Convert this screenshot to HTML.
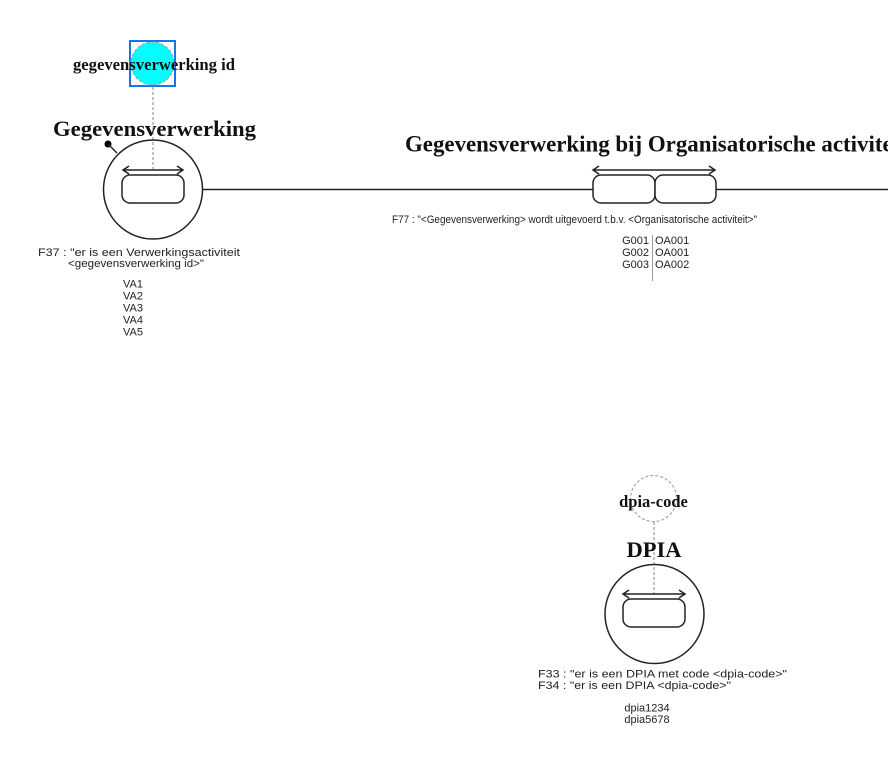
<!DOCTYPE html>
<html>
<head>
<meta charset="utf-8">
<style>
  html, body { margin:0; padding:0; background:#fff; }
  svg { display:block; }
  .serif { font-family: "Liberation Serif", serif; font-weight: bold; fill:#111; }
  .sans { font-family: "Liberation Sans", sans-serif; font-size: 11px; fill:#222; }
</style>
</head>
<body>
<svg width="888" height="781" viewBox="0 0 888 781" xmlns="http://www.w3.org/2000/svg">
  <rect x="0" y="0" width="888" height="781" fill="#fff"/>

  <!-- ===== Gegevensverwerking ===== -->
  <rect x="130" y="41" width="45" height="45" fill="#fff" stroke="#1a73e8" stroke-width="2"/>
  <circle cx="152.5" cy="63.5" r="21.5" fill="#00ffff" stroke="#999" stroke-width="1" stroke-dasharray="3,2"/>
  <text class="serif" x="154" y="70" font-size="16.5" text-anchor="middle" textLength="162" lengthAdjust="spacingAndGlyphs">gegevensverwerking id</text>
  <line x1="153" y1="87" x2="153" y2="170" stroke="#888" stroke-width="1" stroke-dasharray="3,2"/>

  <text class="serif" x="53" y="136" font-size="22.5" textLength="203" lengthAdjust="spacingAndGlyphs">Gegevensverwerking</text>

  <circle cx="108" cy="144" r="3.5" fill="#000"/>
  <line x1="108" y1="144" x2="117" y2="153" stroke="#222" stroke-width="1.5"/>

  <circle cx="153" cy="189.5" r="49.5" fill="none" stroke="#222" stroke-width="1.5"/>
  <line x1="123" y1="170" x2="183" y2="170" stroke="#222" stroke-width="1.5"/>
  <path d="M129,166 L123,170 L129,174" fill="none" stroke="#222" stroke-width="1.5"/>
  <path d="M177,166 L183,170 L177,174" fill="none" stroke="#222" stroke-width="1.5"/>
  <rect x="122" y="175" width="62" height="28" rx="8" ry="8" fill="#fff" stroke="#222" stroke-width="1.5"/>

  <text class="sans" x="38" y="256" textLength="202" lengthAdjust="spacingAndGlyphs">F37 : "er is een Verwerkingsactiviteit</text>
  <text class="sans" x="68" y="267" textLength="136" lengthAdjust="spacingAndGlyphs">&lt;gegevensverwerking id&gt;"</text>
  <text class="sans" x="133" y="287.5" text-anchor="middle">VA1</text>
  <text class="sans" x="133" y="299.5" text-anchor="middle">VA2</text>
  <text class="sans" x="133" y="311.5" text-anchor="middle">VA3</text>
  <text class="sans" x="133" y="323.5" text-anchor="middle">VA4</text>
  <text class="sans" x="133" y="335.5" text-anchor="middle">VA5</text>

  <line x1="203" y1="189.5" x2="593" y2="189.5" stroke="#222" stroke-width="1.5"/>
  <line x1="716" y1="189.5" x2="888" y2="189.5" stroke="#222" stroke-width="1.5"/>

  <!-- ===== Gegevensverwerking bij Organisatorische activiteit ===== -->
  <text class="serif" x="405" y="151.5" font-size="22.9">Gegevensverwerking bij Organisatorische activiteit</text>

  <line x1="593" y1="170" x2="715" y2="170" stroke="#222" stroke-width="1.5"/>
  <path d="M599,166 L593,170 L599,174" fill="none" stroke="#222" stroke-width="1.5"/>
  <path d="M709,166 L715,170 L709,174" fill="none" stroke="#222" stroke-width="1.5"/>
  <rect x="593" y="175" width="62" height="28" rx="8" ry="8" fill="#fff" stroke="#222" stroke-width="1.5"/>
  <rect x="655" y="175" width="61" height="28" rx="8" ry="8" fill="#fff" stroke="#222" stroke-width="1.5"/>

  <text class="sans" x="392" y="223" textLength="365" lengthAdjust="spacingAndGlyphs">F77 : "&lt;Gegevensverwerking&gt; wordt uitgevoerd t.b.v. &lt;Organisatorische activiteit&gt;"</text>

  <line x1="652.5" y1="235" x2="652.5" y2="281" stroke="#999" stroke-width="1"/>
  <text class="sans" x="649" y="244" text-anchor="end">G001</text>
  <text class="sans" x="649" y="256" text-anchor="end">G002</text>
  <text class="sans" x="649" y="268" text-anchor="end">G003</text>
  <text class="sans" x="655" y="244">OA001</text>
  <text class="sans" x="655" y="256">OA001</text>
  <text class="sans" x="655" y="268">OA002</text>

  <!-- ===== DPIA ===== -->
  <circle cx="653.5" cy="498.5" r="23" fill="#fff" stroke="#999" stroke-width="1" stroke-dasharray="3,2"/>
  <text class="serif" x="653.5" y="507" font-size="16.5" text-anchor="middle">dpia-code</text>
  <line x1="654" y1="522" x2="654" y2="594" stroke="#888" stroke-width="1" stroke-dasharray="3,2"/>

  <text class="serif" x="654" y="557" font-size="22.5" text-anchor="middle">DPIA</text>

  <circle cx="654.5" cy="614" r="49.5" fill="none" stroke="#222" stroke-width="1.5"/>
  <line x1="623" y1="594" x2="685" y2="594" stroke="#222" stroke-width="1.5"/>
  <path d="M629,590 L623,594 L629,598" fill="none" stroke="#222" stroke-width="1.5"/>
  <path d="M679,590 L685,594 L679,598" fill="none" stroke="#222" stroke-width="1.5"/>
  <rect x="623" y="599" width="62" height="28" rx="8" ry="8" fill="#fff" stroke="#222" stroke-width="1.5"/>

  <text class="sans" x="538" y="677.5" textLength="249" lengthAdjust="spacingAndGlyphs">F33 : "er is een DPIA met code &lt;dpia-code&gt;"</text>
  <text class="sans" x="538" y="689" textLength="193" lengthAdjust="spacingAndGlyphs">F34 : "er is een DPIA &lt;dpia-code&gt;"</text>
  <text class="sans" x="647" y="711.5" text-anchor="middle">dpia1234</text>
  <text class="sans" x="647" y="723" text-anchor="middle">dpia5678</text>
</svg>
</body>
</html>
